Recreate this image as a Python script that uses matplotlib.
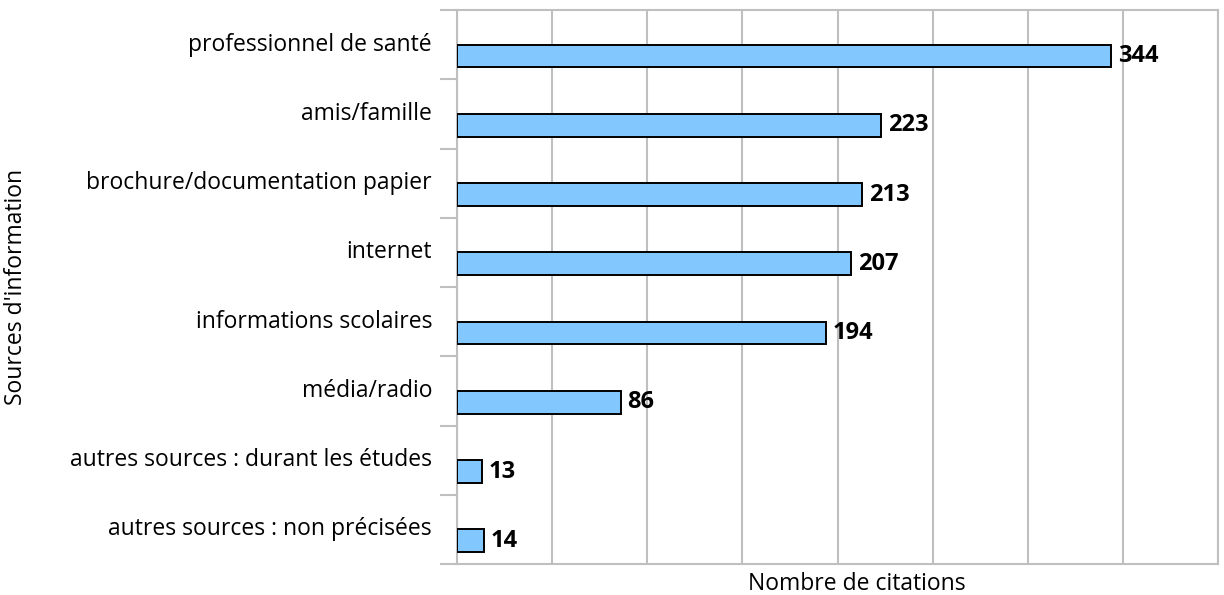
import numpy as np
import matplotlib
matplotlib.use("Agg")
import matplotlib.pyplot as plt

sources = [
    "professionnel de santé",
    "amis/famille",
    "brochure/documentation papier",
    "internet",
    "informations scolaires",
    "média/radio",
    "autres sources : durant les études",
    "autres sources : non précisées",
]
citations = [344, 223, 213, 207, 194, 86, 13, 14]

plt.rcParams["font.family"] = ["Open Sans", "DejaVu Sans"]

fig = plt.figure(figsize=(12.24, 5.95), dpi=100)
ax = fig.add_axes([457 / 1224, 1 - 564 / 595, (1218 - 457) / 1224, (564 - 10) / 595])

n = len(sources)
centers = np.arange(n) + 0.5
bar_pos = centers + 0.165

ax.barh(bar_pos, citations, height=0.33, color="#82C8FF",
        edgecolor="black", linewidth=1.4, zorder=3)

for y, v in zip(bar_pos, citations):
    ax.annotate(str(v), (v, y), xytext=(5, 0), textcoords="offset points",
                va="center", ha="left", fontsize=17, fontweight="bold", zorder=4)

ax.set_xlim(0, 400)
ax.set_ylim(n, 0)

ax.set_xticks(np.arange(0, 401, 50))
ax.tick_params(axis="x", length=0, labelbottom=False)
ax.grid(axis="x", color="#BFBFBF", linewidth=1.5, zorder=0)

ax.set_yticks(np.arange(n + 1))
ax.set_yticklabels([])
ax.tick_params(axis="y", which="major", length=12, width=1.5, color="#BFBFBF")
ax.set_yticks(centers, minor=True)
ax.set_yticklabels(sources, minor=True, fontsize=16.5)
ax.tick_params(axis="y", which="minor", length=0, pad=18)
for lab in ax.get_yticklabels(minor=True):
    lab.set_verticalalignment("center")

for s in ax.spines.values():
    s.set_color("#BFBFBF")
    s.set_linewidth(1.5)

ax.set_xlabel("Nombre de citations", fontsize=16.5)
ax.xaxis.set_label_coords(0.526, -0.015)
ax.set_ylabel("Sources d'information", fontsize=16.5)
ax.yaxis.set_label_coords(-0.564, 0.5)

fig.savefig("out.png", dpi=100)
